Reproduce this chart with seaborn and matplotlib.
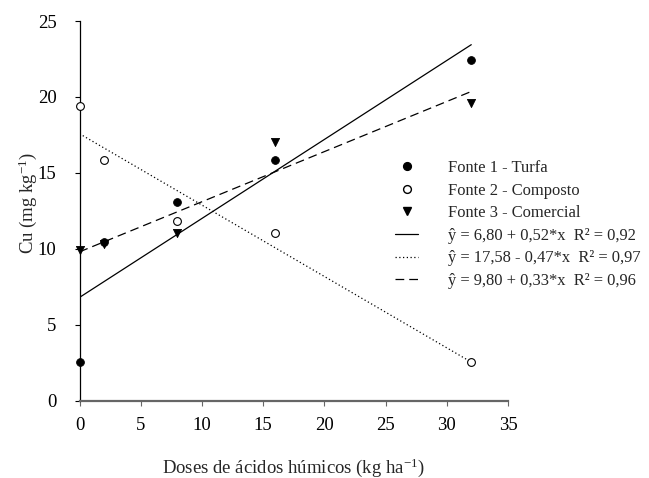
import numpy as np
import pandas as pd
import seaborn as sns
import matplotlib
matplotlib.use("Agg")
import matplotlib.pyplot as plt
from matplotlib.lines import Line2D
from matplotlib.legend_handler import HandlerLine2D

# ---- data ----
doses = [0, 2, 8, 16, 32]
turfa = [2.55, 10.43, 13.1, 15.85, 22.45]
composto = [19.4, 15.85, 11.8, 11.06, 2.55]
comercial = [9.9, 10.3, 11.06, 17.05, 19.6]

fit_x = [0, 32]
fit_turfa = [6.80, 0.52]        # intercept, slope
fit_composto = [17.58, -0.47]
fit_comercial = [9.80, 0.33]

series_labels = ["Fonte 1 - Turfa", "Fonte 2 - Composto", "Fonte 3 - Comercial"]
eq_labels = ["ŷ = 6,80 + 0,52*x  R² = 0,92",
             "ŷ = 17,58 - 0,47*x  R² = 0,97",
             "ŷ = 9,80 + 0,33*x  R² = 0,96"]
xticks = [0, 5, 10, 15, 20, 25, 30, 35]
yticks = [0, 5, 10, 15, 20, 25]

sns.set_theme(style="ticks")
plt.rcParams["font.family"] = ["Liberation Serif", "DejaVu Serif"]
plt.rcParams["mathtext.fontset"] = "custom"
plt.rcParams["mathtext.rm"] = "Liberation Serif"
plt.rcParams["mathtext.it"] = "Liberation Serif:italic"
plt.rcParams["mathtext.bf"] = "Liberation Serif:bold"

fig = plt.figure(figsize=(6.49, 4.78), dpi=100)
ax = fig.add_axes([79.5/649, 1-400.7/478, (508-79.5)/649, (400.7-21)/478])

pts = pd.DataFrame({
    "x": doses * 3,
    "y": turfa + composto + comercial,
    "fonte": sum([[s]*len(doses) for s in series_labels], []),
})

# regression lines
lw = 0.9
fx = np.array(fit_x, dtype=float)
for (a, b), ls in zip([fit_turfa, fit_composto, fit_comercial],
                      ["-", (0, (1, 2)), (0, (7, 4))]):
    ax.plot(fx, a + b*fx, color="black", lw=lw, linestyle=ls, zorder=2)

ms = 5.6
sub3 = pts[pts.fonte == series_labels[2]]
sns.scatterplot(data=sub3, x="x", y="y", marker="v", s=ms**2*1.1, color="black",
                edgecolor="black", linewidth=0.6, ax=ax, zorder=3, clip_on=False, legend=False)
sub1 = pts[pts.fonte == series_labels[0]]
sns.scatterplot(data=sub1, x="x", y="y", marker="o", s=ms**2, color="black",
                edgecolor="black", linewidth=0.6, ax=ax, zorder=4, clip_on=False, legend=False)
sub2 = pts[pts.fonte == series_labels[1]]
sns.scatterplot(data=sub2, x="x", y="y", marker="o", s=ms**2, color="white",
                edgecolor="black", linewidth=0.8, ax=ax, zorder=4, clip_on=False, legend=False)

ax.set_xlim(0, 35)
ax.set_ylim(0, 25)
ax.set_xticks(xticks)
ax.set_yticks(yticks)
ax.tick_params(axis="both", direction="out", length=3.6, width=0.8, labelsize=13.5,
               colors="black")
ax.tick_params(axis="x", color="#666666", pad=8)
ax.tick_params(axis="y", pad=13)
for s in ["top", "right"]:
    ax.spines[s].set_visible(False)
ax.spines["left"].set_color("black")
ax.spines["left"].set_linewidth(0.9)
ax.spines["bottom"].set_color("#666666")
ax.spines["bottom"].set_linewidth(1.6)

ax.set_xlabel("Doses de ácidos húmicos (kg ha$^{-1}$)", fontsize=13.5, labelpad=16)
ax.set_ylabel("Cu (mg kg$^{-1}$)", fontsize=13.5)
ax.yaxis.set_label_coords(-0.094, 0.52)


class EndMarkerHandler(HandlerLine2D):
    def get_xdata(self, legend, xdescent, ydescent, width, height, fontsize):
        xdata = np.array([-xdescent, -xdescent + width])
        xm = np.array([-xdescent + width])
        return xdata, xm


handles = [
    Line2D([], [], marker="o", ls="none", color="black", markersize=5.6),
    Line2D([], [], marker="o", ls="none", markerfacecolor="white", markeredgecolor="black", markersize=5.6),
    Line2D([], [], marker="v", ls="none", color="black", markersize=5.8),
    Line2D([], [], color="black", lw=lw, ls="-"),
    Line2D([], [], color="black", lw=lw, ls=(0, (1, 2))),
    Line2D([], [], color="black", lw=lw, ls=(0, (7, 4))),
]
leg = ax.legend(handles, series_labels + eq_labels, loc="upper left",
                bbox_to_anchor=(395/649, 1-160/478), bbox_transform=fig.transFigure,
                frameon=False, fontsize=11.9, handlelength=1.4, handletextpad=1.8,
                borderpad=0, borderaxespad=0, labelspacing=0.40, numpoints=1,
                handler_map={h: EndMarkerHandler() for h in handles[:3]})

fig.savefig("out.png", dpi=100)
